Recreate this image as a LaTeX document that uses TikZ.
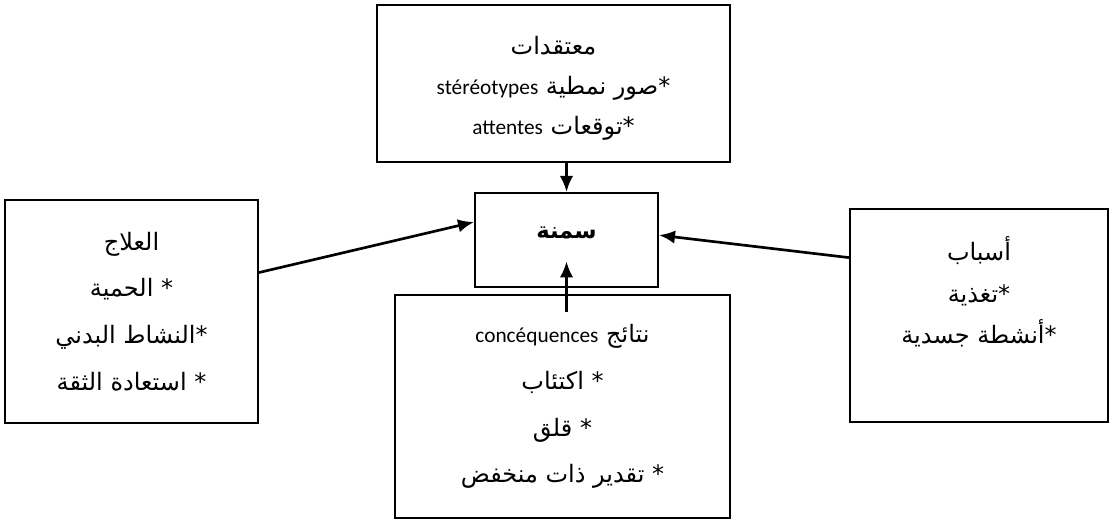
\documentclass[tikz,border=0pt]{standalone}
\usepackage{fontspec}
\usetikzlibrary{arrows.meta}
\setmainfont{Carlito}
\newfontfamily\arabicfont[Script=Arabic]{DejaVu Sans}
\newfontfamily\latinfont{Carlito}
\TeXXeTstate=1

\tikzset{
  box/.style={draw, rectangle, line width=1.5pt, align=center, inner sep=0pt},
  link/.style={-{Latex[length=12pt,width=10pt]}, line width=2pt}
}

\begin{document}
\begin{tikzpicture}[x=0.75pt, y=-0.75pt]
    \useasboundingbox (0,0) rectangle (1117,520);

    % Beliefs
    \node[box, minimum width=264.75pt, minimum height=117.75pt, font=\fontsize{18}{30}\selectfont\arabicfont] (beliefs) at (553.5,83.5)
        {\rule{0pt}{21pt}\beginR معتقدات\endR\\
         \beginR *صور نمطية \beginL{\latinfont\fontsize{16}{30}\selectfont stéréotypes}\endL\endR\\
         \beginR *توقعات \beginL{\latinfont\fontsize{16}{30}\selectfont attentes}\endL\endR};

    % Obesity
    \node[box, minimum width=137.25pt, minimum height=70.5pt, text depth=11pt, font=\fontsize{17}{30}\selectfont\arabicfont\bfseries] (obesity) at (566.5,240)
        {\beginR سمنة\endR};

    % Treatment
    \node[box, minimum width=189.75pt, minimum height=167.25pt, font=\fontsize{18}{35}\selectfont\arabicfont] (treatment) at (131.5,311.5)
        {\beginR العلاج\endR\\
         \beginR * الحمية\endR\\
         \beginR *النشاط البدني\endR\\
         \beginR * استعادة الثقة\endR};

    % Causes
    \node[box, minimum width=193.5pt, minimum height=159.75pt, text depth=38pt, font=\fontsize{18}{31}\selectfont\arabicfont] (causes) at (979,315.5)
        {\beginR أسباب\endR\\
         \beginR *تغذية\endR\\
         \beginR *أنشطة جسدية\endR};

    % Consequences
    \node[box, minimum width=251.25pt, minimum height=167.25pt, font=\fontsize{18}{35}\selectfont\arabicfont] (consequences) at (562.5,406.5)
        {\beginR نتائج \beginL{\latinfont\fontsize{16}{35}\selectfont concéquences}\endL\endR\\
         \beginR * اكتئاب\endR\\
         \beginR * قلق\endR\\
         \beginR * تقدير ذات منخفض\endR};

    % Arrows
    \coordinate (tail) at (obesity.south |- consequences.north);
    \draw[link] (obesity.north |- beliefs.south) -- (obesity.north);
    \draw[link] (treatment.17.5) -- (obesity.169.5);
    \draw[link] (causes.156) -- (obesity.3);
    \draw[link] ([yshift=-13.5pt]tail) -- ([yshift=20pt]obesity.south);
\end{tikzpicture}
\end{document}
